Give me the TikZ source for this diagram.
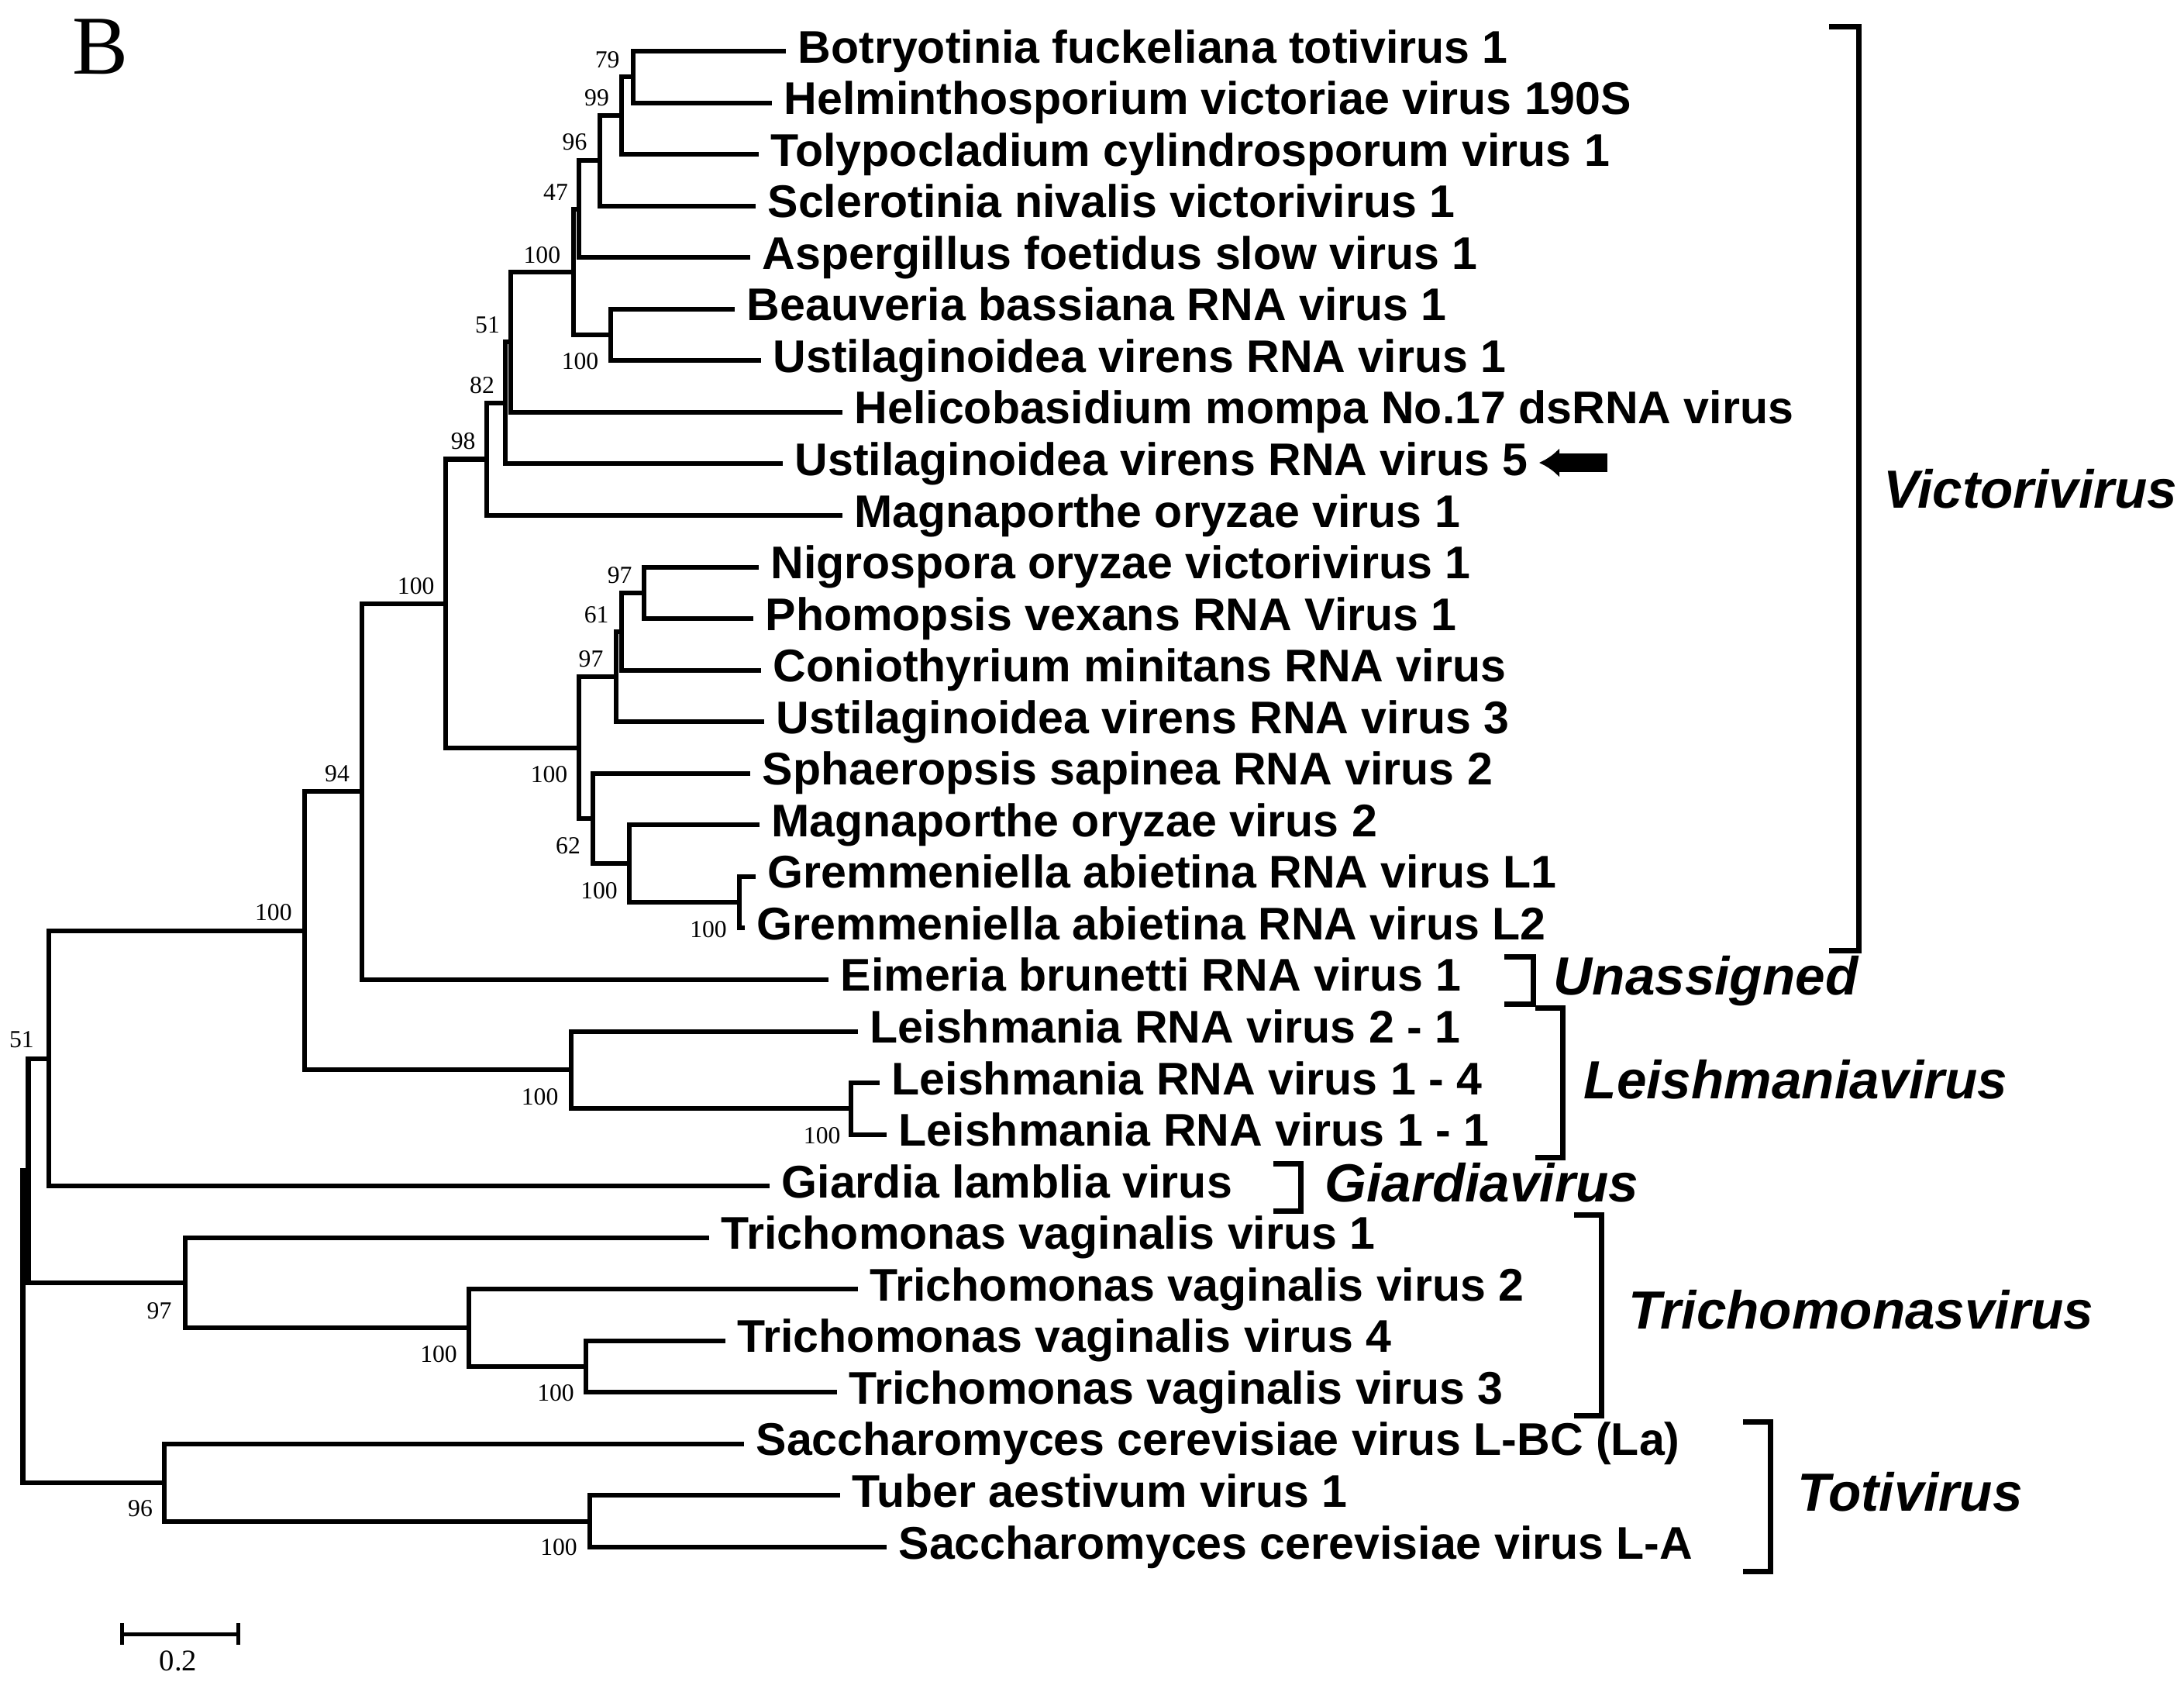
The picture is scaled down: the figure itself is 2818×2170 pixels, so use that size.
\documentclass[tikz,border=0pt]{standalone}
\usepackage{fontspec}
\setmainfont{Liberation Serif}
\newfontfamily\arialfont{Liberation Sans}
\usetikzlibrary{arrows.meta}

\begin{document}
\begin{tikzpicture}[
	x = 0.01cm, y = -0.01cm,
	branch/.style = {line width = 0.06cm},
	bracket/.style = {line width = 0.07cm},
	taxon/.style = {anchor = base west, inner sep = 0pt, xshift = 0.15cm, yshift = -0.15cm,
		font = \arialfont\bfseries\fontsize{16.8}{18}\selectfont},
	genus/.style = {anchor = base west, inner sep = 0pt,
		font = \arialfont\bfseries\itshape\fontsize{19.7}{22}\selectfont},
	boot/.style = {inner sep = 0pt, font = \fontsize{9}{10}\selectfont},
	]

	\useasboundingbox (0,0) rectangle (2818,2170);

	\node[anchor = base west, inner sep = 0pt, font = \fontsize{30.7}{32}\selectfont] (panel) at (93,96) {B};

	% leaves: end of branch, then name
	\foreach \n/\xe/\ye/\txt in {
		botryo/1014/66/Botryotinia fuckeliana totivirus 1,
		hvv/996/132.6/Helminthosporium victoriae virus 190S,
		tcv/979/199.1/Tolypocladium cylindrosporum virus 1,
		snv/975/265.7/Sclerotinia nivalis victorivirus 1,
		afsv/968/332.2/Aspergillus foetidus slow virus 1,
		bbrv/948/398.8/Beauveria bassiana RNA virus 1,
		uvrv1/982/465.3/Ustilaginoidea virens RNA virus 1,
		hmv/1087/531.9/Helicobasidium mompa No.17 dsRNA virus,
		uvrv5/1010/598.4/Ustilaginoidea virens RNA virus 5,
		mov1/1087/665/Magnaporthe oryzae virus 1,
		novv/979/731.5/Nigrospora oryzae victorivirus 1,
		pvrv/972/798.1/Phomopsis vexans RNA Virus 1,
		cmrv/982/864.6/Coniothyrium minitans RNA virus,
		uvrv3/986/931.2/Ustilaginoidea virens RNA virus 3,
		ssrv/968/997.7/Sphaeropsis sapinea RNA virus 2,
		mov2/980/1064.3/Magnaporthe oryzae virus 2,
		garvl1/975/1130.8/Gremmeniella abietina RNA virus L1,
		garvl2/961/1197.4/Gremmeniella abietina RNA virus L2,
		ebrv/1069/1263.9/Eimeria brunetti RNA virus 1,
		lrv21/1107/1330.5/Leishmania RNA virus 2 - 1,
		lrv14/1135/1397/Leishmania RNA virus 1 - 4,
		lrv11/1144/1463.6/Leishmania RNA virus 1 - 1,
		glv/993/1530.1/Giardia lamblia virus,
		tvv1/915/1596.7/Trichomonas vaginalis virus 1,
		tvv2/1107/1663.2/Trichomonas vaginalis virus 2,
		tvv4/936/1729.8/Trichomonas vaginalis virus 4,
		tvv3/1080/1796.3/Trichomonas vaginalis virus 3,
		scvlbc/960/1862.9/Saccharomyces cerevisiae virus L-BC (La),
		tav/1084/1929.4/Tuber aestivum virus 1,
		scvla/1144/1996/Saccharomyces cerevisiae virus L-A}
	{
		\coordinate (\n) at (\xe,\ye);
		\node[taxon] (\n-t) at (\n) {\txt};
	}

	% inner nodes
	\coordinate (n79) at (817,99.3);
	\coordinate (n99) at (802,149.2);
	\coordinate (n96) at (774,207.5);
	\coordinate (n47) at (747,269.8);
	\coordinate (nbb) at (788,432);
	\coordinate (n100a) at (740,350.9);
	\coordinate (n51) at (659.4,441.4);
	\coordinate (n82) at (652.4,519.9);
	\coordinate (n98) at (628,592.5);
	\coordinate (n97a) at (831,764.8);
	\coordinate (n61) at (802,814.7);
	\coordinate (n97b) at (795,873);
	\coordinate (ngar) at (954,1164.1);
	\coordinate (n100c) at (811.6,1114.2);
	\coordinate (n62) at (765,1056);
	\coordinate (n100b) at (747,964.5);
	\coordinate (nvic) at (575,778.5);
	\coordinate (n94) at (466.5,1021.2);
	\coordinate (nlrv1) at (1098,1430.3);
	\coordinate (nlrv) at (736.6,1380.4);
	\coordinate (n100e) at (393,1200.8);
	\coordinate (n51r) at (63,1365.5);
	\coordinate (ntv34) at (756,1763);
	\coordinate (ntv234) at (604.7,1713.1);
	\coordinate (ntv) at (238.5,1654.9);
	\coordinate (nA) at (36.5,1510.2);
	\coordinate (ntav) at (761,1962.7);
	\coordinate (ntoti) at (212,1912.8);
	\coordinate (root) at (29.5,1711.5);

	\foreach \p/\c in {n79/botryo, n79/hvv, n99/n79, n99/tcv, n96/n99, n96/snv,
		n47/n96, n47/afsv, nbb/bbrv, nbb/uvrv1, n100a/n47, n100a/nbb,
		n51/n100a, n51/hmv, n82/n51, n82/uvrv5, n98/n82, n98/mov1,
		n97a/novv, n97a/pvrv, n61/n97a, n61/cmrv, n97b/n61, n97b/uvrv3,
		ngar/garvl1, ngar/garvl2, n100c/mov2, n100c/ngar, n62/ssrv, n62/n100c,
		n100b/n97b, n100b/n62, nvic/n98, nvic/n100b, n94/nvic, n94/ebrv,
		nlrv1/lrv14, nlrv1/lrv11, nlrv/lrv21, nlrv/nlrv1, n100e/n94, n100e/nlrv,
		n51r/n100e, n51r/glv, ntv34/tvv4, ntv34/tvv3, ntv234/tvv2, ntv234/ntv34,
		ntv/tvv1, ntv/ntv234, nA/n51r, nA/ntv, ntav/tav, ntav/scvla,
		ntoti/scvlbc, ntoti/ntav, root/nA, root/ntoti}
		\draw[branch] (\p) |- (\c);

	% bootstrap values
	\node[boot] (b79) at (783.6,76.8) {79};
	\node[boot] (b99) at (770,126) {99};
	\node[boot] (b96) at (741.5,183) {96};
	\node[boot] (b47) at (717,247.8) {47};
	\node[boot] (b100a) at (699.4,329) {100};
	\node[boot] (b51) at (629,418.8) {51};
	\node[boot] (bbb) at (748.5,466.5) {100};
	\node[boot] (b82) at (622,497) {82};
	\node[boot] (b98) at (597.7,569) {98};
	\node[boot] (bvic) at (536.7,755.8) {100};
	\node[boot] (b97a) at (799.7,742.4) {97};
	\node[boot] (b61) at (769.6,792.9) {61};
	\node[boot] (b97b) at (762.5,850) {97};
	\node[boot] (b100b) at (708.5,999) {100};
	\node[boot] (b62) at (733,1091) {62};
	\node[boot] (b100c) at (773,1148.7) {100};
	\node[boot] (bgar) at (914,1199) {100};
	\node[boot] (b94) at (435,998) {94};
	\node[boot] (b100e) at (352.9,1176.8) {100};
	\node[boot] (b51r) at (28,1341.6) {51};
	\node[boot] (blrv) at (696.6,1415.4) {100};
	\node[boot] (blrv1) at (1060.7,1465.4) {100};
	\node[boot] (btv) at (205.5,1691.2) {97};
	\node[boot] (btv234) at (566,1746.7) {100};
	\node[boot] (btv34) at (717,1796.7) {100};
	\node[boot] (btoti) at (181,1946.5) {96};
	\node[boot] (btav) at (721,1996.5) {100};

	% arrow to the new virus
	\draw[line width = 0.24cm, -{Latex[length = 0.26cm, width = 0.38cm]}] (2074,597) -- (1986,597);

	% genus brackets
	\draw[bracket] (2360,35) -- (2398,35) -- (2398,1226) -- (2360,1226);
	\draw[bracket] (1941,1234) -- (1978,1234) -- (1978,1295) -- (1941,1295);
	\draw[bracket] (1981,1300) -- (2016,1300) -- (2016,1493) -- (1981,1493);
	\draw[bracket] (1643,1501) -- (1678,1501) -- (1678,1562) -- (1643,1562);
	\draw[bracket] (2031,1567) -- (2066,1567) -- (2066,1826) -- (2031,1826);
	\draw[bracket] (2249,1834) -- (2284,1834) -- (2284,2027) -- (2249,2027);

	\node[genus] (victori) at (2430,655) {Victorivirus};
	\node[genus] (unassigned) at (2004,1283) {Unassigned};
	\node[genus] (leish) at (2043,1417) {Leishmaniavirus};
	\node[genus] (giardia) at (1709,1550) {Giardiavirus};
	\node[genus] (tricho) at (2101,1714) {Trichomonasvirus};
	\node[genus] (toti) at (2319,1949) {Totivirus};

	% scale bar
	\draw[line width = 0.05cm] (157,2108) -- (307,2108);
	\draw[line width = 0.05cm] (157,2094) -- (157,2122);
	\draw[line width = 0.05cm] (307,2094) -- (307,2122);
	\node[inner sep = 0pt, font = \fontsize{11}{12}\selectfont] (scale) at (230,2143) {0.2};

\end{tikzpicture}
\end{document}
